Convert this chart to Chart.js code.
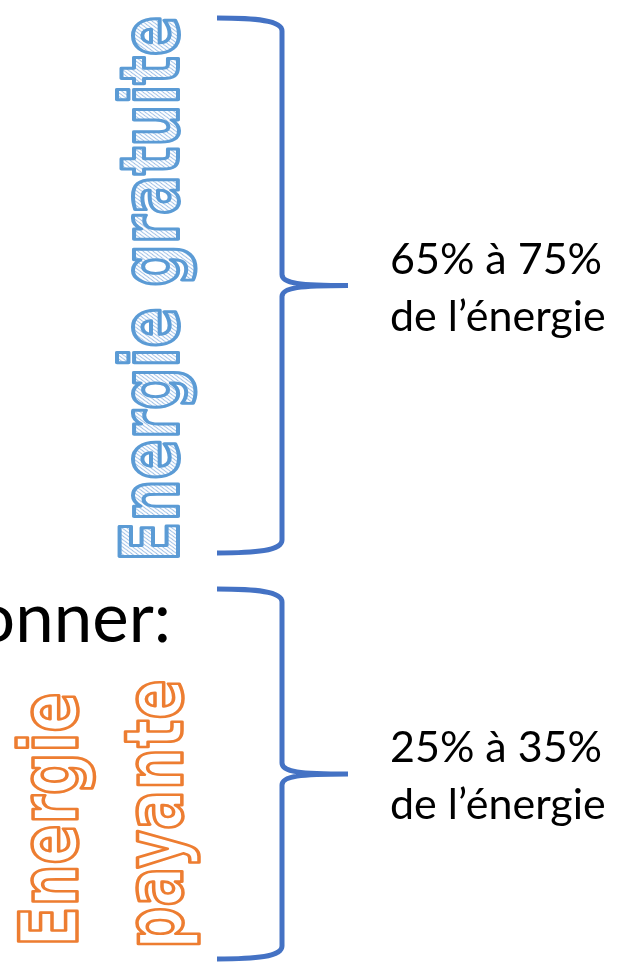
<!DOCTYPE html>
<html>
<head>
<meta charset="utf-8">
<script src="https://cdn.jsdelivr.net/npm/chart.js@4"></script>
<style>
  html, body { margin: 0; padding: 0; background: #ffffff; }
  canvas { display: block; }
</style>
</head>
<body>
<canvas id="energyChart" width="620" height="963"></canvas>
<script>
// === DATA ===
const groupLabels = [['Energie gratuite'], ['Energie', 'payante']];
const shareLabels = [['65% à 75%', 'de l’énergie'], ['25% à 35%', 'de l’énergie']];
const braceFrom = [18, 589];
const braceTo = [553, 959];
const headingText = 'onner:';

const braceBlue = '#4472C4';
const outlineColors = ['#5B9BD5', '#ED7D31'];

function hatchPattern(ctx) {
    const s = 5;
    const tile = document.createElement('canvas');
    tile.width = s;
    tile.height = s;
    const t = tile.getContext('2d');
    t.strokeStyle = '#9DBFE6';
    t.lineWidth = 1.2;
    t.beginPath();
    t.moveTo(-1, 1); t.lineTo(1, -1);
    t.moveTo(0, s); t.lineTo(s, 0);
    t.moveTo(s - 1, s + 1); t.lineTo(s + 1, s - 1);
    t.stroke();
    return ctx.createPattern(tile, 'repeat');
}

// rotated outlined word, reading bottom to top
function drawUpText(ctx, text, x, y, fill, stroke, width) {
    ctx.save();
    ctx.translate(x, y);
    ctx.rotate(-Math.PI / 2);
    ctx.scale(0.74, 1);
    ctx.font = 'bold 80px "DejaVu Sans"';
    ctx.textAlign = 'left';
    ctx.textBaseline = 'alphabetic';
    ctx.lineJoin = 'round';
    ctx.fillStyle = fill;
    ctx.fillText(text, 0, 0);
    ctx.strokeStyle = stroke;
    ctx.lineWidth = width;
    ctx.strokeText(text, 0, 0);
    ctx.restore();
}

function drawBrace(ctx, xs, top, bottom) {
    const armX = xs.getPixelForValue(217);
    const spineX = xs.getPixelForValue(282);
    const tipX = xs.getPixelForValue(348);
    const mid = (top + bottom) / 2;
    ctx.beginPath();
    ctx.moveTo(armX, top);
    ctx.bezierCurveTo(255, top, spineX, top + 2, spineX, top + 13);
    ctx.lineTo(spineX, mid - 11);
    ctx.bezierCurveTo(spineX, mid - 2, 300, mid, tipX, mid);
    ctx.moveTo(armX, bottom);
    ctx.bezierCurveTo(255, bottom, spineX, bottom - 2, spineX, bottom - 13);
    ctx.lineTo(spineX, mid + 11);
    ctx.bezierCurveTo(spineX, mid + 2, 300, mid, tipX, mid);
    ctx.stroke();
}

const bracePlugin = {
    id: 'braces',
    afterDraw(chart) {
        const ctx = chart.ctx;
        const xs = chart.scales.x;
        const ys = chart.scales.y;

        // braces
        ctx.save();
        ctx.strokeStyle = braceBlue;
        ctx.lineWidth = 5;
        ctx.lineCap = 'butt';
        braceFrom.forEach((v, i) => {
            drawBrace(ctx, xs, ys.getPixelForValue(v), ys.getPixelForValue(braceTo[i]));
        });
        ctx.restore();

        // share text next to each brace tip
        ctx.save();
        ctx.fillStyle = '#000000';
        ctx.font = '43px Lato';
        ctx.textAlign = 'left';
        ctx.textBaseline = 'alphabetic';
        shareLabels.forEach((lines, i) => {
            const mid = (ys.getPixelForValue(braceFrom[i]) + ys.getPixelForValue(braceTo[i])) / 2;
            ctx.fillText(lines[0], xs.getPixelForValue(390), mid - 12);
            ctx.fillText(lines[1], xs.getPixelForValue(390), mid + 45);
        });
        ctx.restore();

        // cut-off heading
        ctx.save();
        ctx.fillStyle = '#000000';
        ctx.font = '69px Lato';
        ctx.textAlign = 'right';
        ctx.fillText(headingText, 171, 642);
        ctx.restore();

        // group names
        drawUpText(ctx, groupLabels[0][0], 178, 562, hatchPattern(ctx), outlineColors[0], 4);
        drawUpText(ctx, groupLabels[1][0], 77, 947, '#ffffff', outlineColors[1], 3.5);
        drawUpText(ctx, groupLabels[1][1], 182, 949, '#ffffff', outlineColors[1], 3.5);
    }
};

new Chart(document.getElementById('energyChart'), {
    type: 'scatter',
    data: { datasets: [] },
    options: {
        responsive: false,
        animation: false,
        devicePixelRatio: 1,
        layout: { padding: 0 },
        scales: {
            x: { type: 'linear', min: 0, max: 620, display: false },
            y: { type: 'linear', min: 0, max: 963, reverse: true, display: false }
        },
        plugins: {
            legend: { display: false },
            tooltip: { enabled: false },
            title: { display: false }
        }
    },
    plugins: [bracePlugin]
});
</script>
</body>
</html>
